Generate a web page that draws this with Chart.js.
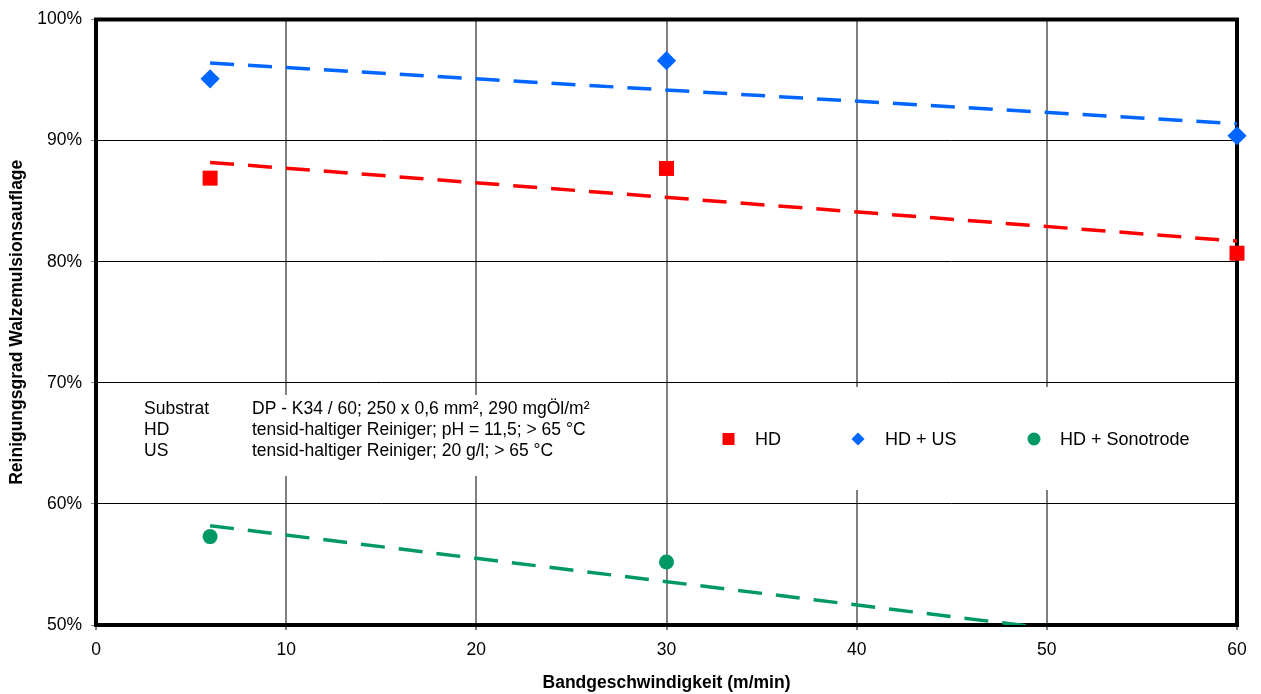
<!DOCTYPE html>
<html>
<head>
<meta charset="utf-8">
<script src="https://cdn.jsdelivr.net/npm/chart.js@4.4.1/dist/chart.umd.min.js"></script>
<style>
html,body{margin:0;padding:0;background:#fff;}
#wrap{width:1261px;height:694px;}
</style>
</head>
<body>
<div id="wrap"><canvas id="c" width="1261" height="694"></canvas></div>
<script>
// ---- data ----
const speeds = [6, 30, 60];
const hd = [86.9, 87.7, 80.7];
const hdUs = [95.1, 96.6, 90.4];
const hdSono = [57.3, 55.2, 46.9];
const trendX = [6, 60];
const hdTrend = [88.2, 81.7];
const hdUsTrend = [96.4, 91.4];
const hdSonoTrend = [58.2, 47.8];
const seriesNames = ['HD', 'HD + US', 'HD + Sonotrode'];
const xTicks = [0, 10, 20, 30, 40, 50, 60];
const yTicks = [50, 60, 70, 80, 90, 100];
const noteRows = [
  ['Substrat', 'DP - K34 / 60; 250 x 0,6 mm², 290 mgÖl/m²'],
  ['HD', 'tensid-haltiger Reiniger; pH = 11,5; > 65 °C'],
  ['US', 'tensid-haltiger Reiniger; 20 g/l; > 65 °C']
];
const xTitle = 'Bandgeschwindigkeit (m/min)';
const yTitle = 'Reinigungsgrad Walzemulsionsauflage';

const RED = '#FF0000', BLUE = '#0066FF', GREEN = '#009966';
const FONT = "'Liberation Sans', Arial, sans-serif";

const pts = (xs, ys) => xs.map((x, i) => ({x: x, y: ys[i]}));

function trendDs(ys, color) {
  return {
    data: pts(trendX, ys), showLine: true, borderColor: color, borderWidth: 3.5,
    borderDash: [24, 14], pointRadius: 0, fill: false, clip: 0, order: 2
  };
}

const boxesPlugin = {
  id: 'boxes',
  beforeDatasetsDraw(chart) {
    const ctx = chart.ctx, a = chart.chartArea;
    ctx.save();
    // white text boxes
    ctx.fillStyle = '#fff';
    ctx.fillRect(110, 395, 530, 81);
    ctx.fillRect(690, 387, 540, 103);
    // annotation
    ctx.fillStyle = '#000';
    ctx.font = '17.5px ' + FONT;
    ctx.textBaseline = 'alphabetic';
    ctx.textAlign = 'left';
    noteRows.forEach((r, i) => {
      ctx.fillText(r[0], 144, 414 + i * 21);
      ctx.fillText(r[1], 252, 414 + i * 21);
    });
    // legend
    const ly = 439;
    ctx.fillStyle = RED;
    ctx.fillRect(728.5 - 6, ly - 6, 12, 12);
    ctx.fillStyle = BLUE;
    ctx.beginPath();
    ctx.moveTo(858, ly - 6.5); ctx.lineTo(864.5, ly); ctx.lineTo(858, ly + 6.5); ctx.lineTo(851.5, ly);
    ctx.closePath(); ctx.fill();
    ctx.fillStyle = GREEN;
    ctx.beginPath(); ctx.arc(1034, ly, 6.5, 0, Math.PI * 2); ctx.fill();
    ctx.fillStyle = '#000';
    ctx.font = '18px ' + FONT;
    ctx.fillText(seriesNames[0], 755, 445);
    ctx.fillText(seriesNames[1], 885, 445);
    ctx.fillText(seriesNames[2], 1060, 445);
    // plot border
    ctx.strokeStyle = '#000';
    ctx.lineWidth = 4;
    ctx.strokeRect(a.left, a.top, a.right - a.left, a.bottom - a.top);
    ctx.restore();
  }
};

new Chart(document.getElementById('c'), {
  type: 'scatter',
  data: {
    datasets: [
      trendDs(hdTrend, RED),
      trendDs(hdUsTrend, BLUE),
      trendDs(hdSonoTrend, GREEN),
      {label: seriesNames[0], data: pts(speeds, hd), pointStyle: 'rect', pointRadius: 10.6,
       backgroundColor: RED, borderColor: RED, borderWidth: 0, order: 1, clip: false},
      {label: seriesNames[1], data: pts(speeds, hdUs), pointStyle: 'rectRot', pointRadius: 9.6,
       backgroundColor: BLUE, borderColor: BLUE, borderWidth: 0, order: 1, clip: false},
      {label: seriesNames[2], data: pts(speeds, hdSono), pointStyle: 'circle', pointRadius: 7.5,
       backgroundColor: GREEN, borderColor: GREEN, borderWidth: 0, order: 1, clip: 8}
    ]
  },
  options: {
    responsive: false,
    animation: false,
    events: [],
    layout: {padding: {top: 17, right: 24, bottom: 0, left: 0}},
    plugins: {legend: {display: false}, tooltip: {enabled: false}},
    scales: {
      x: {
        type: 'linear', min: 0, max: 60,
        afterFit(s) { s.height = 69; },
        afterBuildTicks(s) { s.ticks = xTicks.map(v => ({value: v})); },
        border: {display: false},
        grid: {color: '#808080', lineWidth: 2, tickLength: 5, tickColor: '#808080'},
        ticks: {color: '#000', font: {family: FONT, size: 17.5}, padding: 10},
        title: {display: true, text: xTitle, color: '#000',
                font: {family: FONT, size: 17.5, weight: 'bold'}, padding: {top: 0, bottom: 0}}
      },
      y: {
        type: 'linear', min: 50, max: 100,
        afterFit(s) { s.width = 96; },
        afterBuildTicks(s) { s.ticks = yTicks.map(v => ({value: v})); },
        border: {display: false},
        grid: {color: '#000', lineWidth: 1, tickLength: 5, tickColor: '#808080'},
        ticks: {color: '#000', font: {family: FONT, size: 17.5}, padding: 9,
                callback: v => v + '%'},
        title: {display: true, text: yTitle, color: '#000',
                font: {family: FONT, size: 17.5, weight: 'bold'}, padding: {top: 7, bottom: 0}}
      }
    }
  },
  plugins: [boxesPlugin]
});
</script>
</body>
</html>
